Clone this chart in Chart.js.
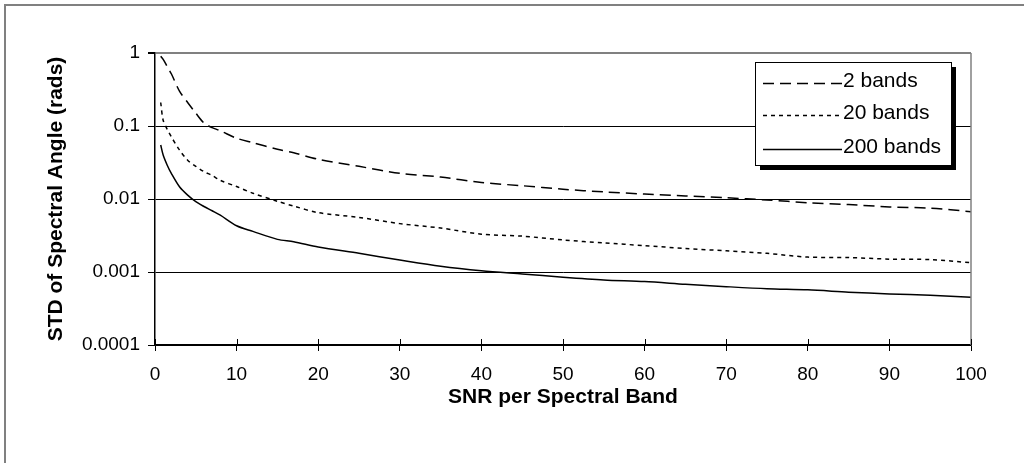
<!DOCTYPE html>
<html><head><meta charset="utf-8">
<style>html,body{margin:0;padding:0;background:#fff;} #wrap{width:1024px;height:463px;position:relative;}</style>
<script src="https://cdn.jsdelivr.net/npm/chart.js@4.4.0/dist/chart.umd.min.js"></script>
</head><body><div id="wrap"><canvas id="c" width="1024" height="463"></canvas></div>
<script>
const snr      = [0.7, 1, 1.5, 2, 3, 4, 5, 6, 7, 8, 10, 12, 15, 17, 20, 25, 30, 35, 40, 45, 50, 55, 60, 65, 70, 75, 80, 85, 90, 95, 100];
const bands2   = [0.9, 0.82, 0.65, 0.52, 0.3, 0.21, 0.15, 0.11, 0.095, 0.086, 0.068, 0.059, 0.048, 0.043, 0.035, 0.028, 0.0225, 0.020, 0.0168, 0.0152, 0.0136, 0.0125, 0.0117, 0.011, 0.0104, 0.0097, 0.0089, 0.0084, 0.0078, 0.0075, 0.0067];
const bands20  = [0.21, 0.12, 0.09, 0.071, 0.047, 0.034, 0.028, 0.0237, 0.021, 0.018, 0.0148, 0.012, 0.0093, 0.008, 0.0065, 0.0056, 0.0046, 0.0040, 0.0033, 0.0031, 0.00275, 0.0025, 0.0023, 0.0021, 0.00195, 0.0018, 0.0016, 0.00158, 0.0015, 0.00148, 0.00134];
const bands200 = [0.055, 0.04, 0.029, 0.0224, 0.0147, 0.0113, 0.0092, 0.0079, 0.0069, 0.006, 0.0043, 0.0036, 0.0028, 0.0026, 0.0022, 0.0018, 0.00146, 0.0012, 0.00104, 0.00094, 0.00085, 0.00078, 0.00074, 0.00068, 0.00063, 0.00059, 0.00057, 0.00053, 0.0005, 0.00048, 0.00045];
const seriesLabels = ['2 bands', '20 bands', '200 bands'];
const yTicks = [0.0001, 0.001, 0.01, 0.1, 1];
const yTickLabels = ['0.0001', '0.001', '0.01', '0.1', '1'];
const xTicks = [0, 10, 20, 30, 40, 50, 60, 70, 80, 90, 100];
const xTitle = 'SNR per Spectral Band';
const yTitle = 'STD of Spectral Angle (rads)';

const FONT = '"Liberation Sans", Arial, sans-serif';
Chart.defaults.font.family = FONT;
Chart.defaults.color = '#000';

const dashes = [[11, 6], [4, 4], []];
const seriesData = [bands2, bands20, bands200];

const framePlugin = {
  id: 'frame',
  beforeDraw(chart) {
    const ctx = chart.ctx;
    ctx.save();
    ctx.fillStyle = '#fff';
    ctx.fillRect(0, 0, chart.width, chart.height);
    ctx.fillStyle = '#808080';
    ctx.fillRect(4, 4, chart.width - 4, 2);
    ctx.fillRect(4, 4, 2, chart.height - 4);
    ctx.restore();
  },
  afterDraw(chart) {
    const ctx = chart.ctx;
    const a = chart.chartArea;
    const xs = chart.scales.x;
    ctx.save();
    ctx.strokeStyle = '#808080';
    ctx.lineWidth = 1.5;
    ctx.beginPath();
    ctx.moveTo(a.right, a.top);
    ctx.lineTo(a.right, a.bottom);
    ctx.stroke();
    ctx.strokeStyle = '#000';
    ctx.lineWidth = 1;
    xs.ticks.forEach(t => {
      const px = Math.round(xs.getPixelForValue(t.value)) + 0.5;
      ctx.beginPath();
      ctx.moveTo(px, a.bottom - 6);
      ctx.lineTo(px, a.bottom);
      ctx.stroke();
    });
    const bx = 755, by = 62, bw = 196, bh = 103;
    ctx.fillStyle = '#000';
    ctx.fillRect(bx + 5, by + 5, bw, bh);
    ctx.fillStyle = '#fff';
    ctx.fillRect(bx, by, bw, bh);
    ctx.strokeStyle = '#000';
    ctx.lineWidth = 1;
    ctx.strokeRect(bx + 0.5, by + 0.5, bw, bh);
    const lineY = [83, 115, 149];
    const textY = [87, 119, 153];
    chart.data.datasets.forEach((ds, i) => {
      ctx.strokeStyle = '#000';
      ctx.lineWidth = 1.5;
      ctx.setLineDash(ds.borderDash || []);
      ctx.beginPath();
      ctx.moveTo(763, lineY[i] + 0.5);
      ctx.lineTo(842, lineY[i] + 0.5);
      ctx.stroke();
      ctx.setLineDash([]);
      ctx.fillStyle = '#000';
      ctx.font = '21px ' + FONT;
      ctx.textBaseline = 'alphabetic';
      ctx.textAlign = 'left';
      ctx.fillText(ds.label, 843, textY[i]);
    });
    ctx.restore();
  }
};

new Chart(document.getElementById('c'), {
  type: 'line',
  data: {
    datasets: seriesLabels.map((lab, i) => ({
      label: lab,
      data: snr.map((x, j) => ({ x: x, y: seriesData[i][j] })),
      borderColor: '#000',
      borderWidth: 1.5,
      borderDash: dashes[i],
      pointRadius: 0,
      tension: 0.3,
      fill: false
    }))
  },
  options: {
    responsive: false,
    animation: false,
    devicePixelRatio: 1,
    layout: { padding: { left: 0, top: 53, right: 53, bottom: 0 } },
    plugins: { legend: { display: false }, tooltip: { enabled: false } },
    scales: {
      x: {
        type: 'linear', min: 0, max: 100,
        afterBuildTicks: s => { s.ticks = xTicks.map(v => ({ value: v })); },
        afterFit: s => { s.height = 118; },
        ticks: { font: { size: 19 }, color: '#000', padding: 12, maxRotation: 0 },
        grid: { drawOnChartArea: false, tickLength: 6, color: '#000', lineWidth: 1 },
        border: { color: '#000', width: 1.5 },
        title: { display: true, text: xTitle, font: { size: 21, weight: 'bold' }, color: '#000', padding: { top: 0, bottom: 53 } }
      },
      y: {
        type: 'logarithmic', min: 0.0001, max: 1,
        afterBuildTicks: s => { s.ticks = yTicks.map(v => ({ value: v })); },
        afterFit: s => { s.width = 155; },
        ticks: {
          font: { size: 19 }, color: '#000', padding: 8,
          callback: (v) => { const k = yTicks.indexOf(v); return k >= 0 ? yTickLabels[k] : ''; }
        },
        grid: {
          color: c => (c.tick && c.tick.value === 1) ? '#808080' : '#000',
          lineWidth: c => (c.tick && c.tick.value === 1) ? 2 : 1,
          tickColor: '#000', tickLength: 7
        },
        border: { color: '#000', width: 1.5 },
        title: { display: true, text: yTitle, font: { size: 21, weight: 'bold' }, color: '#000', padding: { top: 44, bottom: 0 } }
      }
    }
  },
  plugins: [framePlugin]
});
</script></body></html>
